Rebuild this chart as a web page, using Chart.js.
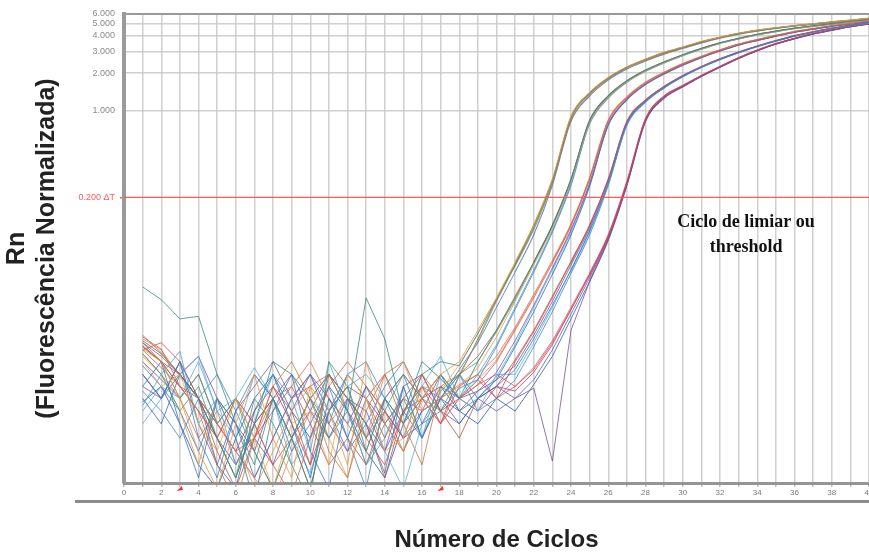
<!DOCTYPE html>
<html><head><meta charset="utf-8">
<script src="https://cdn.jsdelivr.net/npm/chart.js@4.4.1/dist/chart.umd.min.js"></script>
<style>
html,body{margin:0;padding:0;background:#fff;overflow:hidden;}
#wrap{width:869px;height:552px;overflow:hidden;position:relative;}
canvas{display:block;}
</style></head>
<body><div id="wrap"><canvas id="c" width="880" height="552" style="width:880px;height:552px"></canvas></div>
<script>
// ---- data ----
const cycles = [1,2,3,4,5,6,7,8,9,10,11,12,13,14,15,16,17,18,19,20,21,22,23,24,25,26,27,28,29,30,31,32,33,34,35,36,37,38,39,40];
const xTickValues = [0,2,4,6,8,10,12,14,16,18,20,22,24,26,28,30,32,34,36,38,40];
const yTickValues = [0.2,1,2,3,4,5,6];
const yTickLabels = ['0.200 ΔT','1.000','2.000','3.000','4.000','5.000','6.000'];
const thresholdValue = [0.2];
const baselineCycles = [3,17];
const annotationText = ['Ciclo de limiar ou','threshold'];

// group 1 (Ct ~22.7)
const a1 = [.012,.0095,.0048,.0018,.0009,.003,.0075,.0023,.0011,.006,.0038,.0014,.0095,.003,.0018,.0048,.0075,
  .0095,.017,.031,.06,.12,.28,.9,1.4,1.85,2.25,2.6,2.95,3.25,3.6,3.9,4.2,4.45,4.65,4.85,5.0,5.2,5.35,5.55];
const a2 = [.038,.03,.021,.022,.0075,.003,.0014,.0048,.0023,.0009,.0038,.006,.0018,.0048,.003,.0075,.0095,
  .0088,.016,.03,.057,.115,.27,.88,1.38,1.82,2.22,2.58,2.92,3.22,3.56,3.88,4.18,4.42,4.63,4.82,4.98,5.18,5.34,5.52];
const a3 = [.015,.012,.006,.0038,.0014,.0007,.0023,.006,.0095,.0048,.0018,.0011,.0038,.0075,.003,.0014,.006,
  .0075,.014,.029,.056,.11,.26,.84,1.34,1.79,2.19,2.53,2.87,3.19,3.53,3.85,4.15,4.39,4.6,4.8,4.96,5.15,5.3,5.48];
const a4 = [.006,.0095,.003,.0011,.0048,.0023,.0007,.0038,.0075,.0018,.0009,.0048,.003,.0012,.006,.0023,.0048,
  .0082,.0135,.026,.05,.1,.25,.82,1.31,1.76,2.16,2.51,2.85,3.16,3.51,3.83,4.13,4.37,4.59,4.79,4.96,5.13,5.29,5.46];
const a5 = [.011,.0075,.0038,.006,.0023,.0011,.0048,.003,.0014,.0007,.0095,.006,.0023,.0038,.0075,.0048,.0038,
  .0072,.0145,.03,.058,.118,.27,.87,1.37,1.83,2.23,2.58,2.93,3.23,3.58,3.89,4.19,4.43,4.64,4.83,4.99,5.19,5.34,5.53];
const a6 = [.0095,.006,.0075,.003,.0018,.0048,.0023,.0009,.003,.0038,.0014,.0075,.0048,.0018,.0023,.006,.0055,
  .009,.016,.031,.059,.12,.28,.89,1.39,1.84,2.24,2.59,2.94,3.24,3.59,3.9,4.2,4.45,4.65,4.85,5.0,5.2,5.36,5.56];
// group 2 (Ct ~23.7)
const b1 = [.014,.011,.0075,.0048,.0023,.0011,.003,.0095,.0075,.0048,.0023,.0038,.031,.0145,.0035,.0095,.0069,.0048,
  .0095,.017,.031,.06,.12,.28,.84,1.32,1.74,2.12,2.47,2.82,3.17,3.52,3.82,4.12,4.37,4.62,4.82,5.02,5.22,5.42];
const b2 = [.0105,.0075,.0038,.0014,.0048,.0023,.0009,.0018,.0038,.006,.0023,.0011,.0048,.0075,.0095,.0038,.0048,.006,
  .0085,.015,.029,.057,.113,.27,.8,1.28,1.7,2.08,2.43,2.78,3.13,3.48,3.78,4.08,4.33,4.58,4.78,4.98,5.18,5.38];
const b3 = [.0042,.0075,.0115,.003,.0048,.0014,.003,.0075,.0048,.0018,.0095,.0038,.0014,.0023,.006,.0023,.0075,.0048,
  .0075,.013,.026,.052,.108,.26,.78,1.26,1.69,2.07,2.42,2.77,3.12,3.47,3.77,4.07,4.33,4.57,4.77,4.97,5.17,5.36];
const b4 = [.0135,.0095,.006,.0048,.0018,.0009,.0023,.006,.0038,.0014,.0075,.0048,.003,.0011,.0038,.006,.003,.0075,
  .0105,.017,.032,.06,.118,.28,.83,1.31,1.73,2.11,2.46,2.81,3.16,3.51,3.81,4.11,4.36,4.61,4.81,5.01,5.21,5.41];
const b5 = [.0075,.0048,.0095,.0023,.0011,.0038,.0075,.0048,.0018,.003,.006,.0023,.0009,.0048,.0075,.003,.0038,.0058,
  .0068,.0125,.025,.05,.105,.25,.79,1.27,1.7,2.08,2.43,2.78,3.13,3.48,3.78,4.08,4.34,4.58,4.78,4.98,5.18,5.37];
const b6 = [.0125,.0095,.0048,.0075,.003,.0048,.0018,.0009,.0023,.0048,.0075,.0038,.0014,.003,.0048,.0023,.0055,.0075,
  .0095,.0165,.03,.059,.118,.275,.82,1.3,1.72,2.1,2.45,2.8,3.15,3.5,3.8,4.1,4.35,4.6,4.8,5.0,5.2,5.4];
// group 3 (Ct ~24.7)
const c1 = [.0125,.0095,.006,.0038,.0023,.0048,.003,.0014,.0008,.0023,.006,.0095,.006,.0038,.0018,.0048,.0075,.0048,.0062,
  .0095,.017,.031,.059,.118,.28,.82,1.27,1.67,2.02,2.37,2.72,3.07,3.42,3.72,4.02,4.32,4.57,4.82,5.02,5.27];
const c2 = [.0075,.0048,.0095,.003,.0014,.0038,.006,.0095,.0048,.0075,.003,.0018,.0048,.0075,.0038,.0023,.0048,.0038,.0055,
  .0078,.014,.027,.054,.11,.26,.78,1.23,1.63,1.98,2.33,2.68,3.03,3.38,3.68,3.98,4.28,4.53,4.78,4.98,5.22];
const c3 = [.0145,.0118,.0072,.0048,.003,.0018,.0011,.0007,.0018,.0038,.003,.0048,.0023,.0075,.0095,.0048,.003,.0048,.0068,
  .0098,.0175,.032,.061,.12,.285,.83,1.28,1.68,2.03,2.38,2.73,3.08,3.43,3.73,4.03,4.33,4.58,4.83,5.03,5.28];
const c4 = [.0048,.003,.0075,.0048,.0014,.0009,.0038,.0075,.003,.0011,.0048,.0023,.006,.003,.0018,.0038,.0048,.003,.0048,
  .0068,.0125,.024,.048,.1,.245,.76,1.22,1.62,1.97,2.32,2.67,3.02,3.37,3.67,3.97,4.27,4.52,4.77,4.97,5.2];
const c5 = [.011,.0075,.0048,.0023,.0038,.0014,.0023,.0048,.006,.0095,.0048,.003,.0018,.0048,.003,.0075,.0048,.0062,.0075,
  .0105,.018,.033,.062,.122,.29,.84,1.29,1.69,2.04,2.39,2.74,3.09,3.44,3.74,4.04,4.34,4.59,4.84,5.04,5.29];
const c6 = [.0038,.006,.0048,.0095,.0038,.0023,.0075,.0048,.0014,.0023,.0038,.0075,.0048,.0018,.0009,.003,.0048,.0075,.0048,
  .0072,.013,.026,.052,.106,.255,.77,1.23,1.63,1.98,2.33,2.68,3.03,3.38,3.68,3.98,4.28,4.53,4.78,4.98,5.21];
// group 4 (Ct ~25.7)
const d1 = [.0088,.006,.0038,.0018,.0048,.003,.0011,.0023,.0048,.0075,.0038,.0018,.003,.006,.0095,.0048,.0075,.0038,.0048,.006,
  .0082,.0145,.027,.052,.108,.26,.78,1.18,1.53,1.88,2.23,2.58,2.93,3.28,3.63,3.98,4.28,4.58,4.83,5.08];
const d2 = [.0118,.0135,.0095,.0048,.003,.0018,.0023,.0038,.006,.003,.0014,.0023,.0014,.0038,.0023,.006,.0038,.0048,.0068,.0048,
  .0095,.0165,.031,.06,.118,.28,.82,1.22,1.57,1.92,2.27,2.62,2.97,3.32,3.67,4.02,4.32,4.62,4.87,5.12];
const d3 = [.003,.0048,.0075,.0105,.0038,.0048,.0085,.0048,.0023,.0012,.0038,.006,.0075,.0048,.003,.006,.0105,.0048,.0038,.0075,
  .0075,.0135,.026,.052,.105,.255,.77,1.18,1.53,1.88,2.23,2.58,2.93,3.28,3.63,3.98,4.28,4.58,4.83,5.08];
const d4 = [.0095,.0068,.0048,.0075,.003,.0048,.0023,.0014,.0038,.0075,.0048,.003,.006,.0038,.0023,.003,.006,.0048,.0055,.0068,
  .0088,.0155,.029,.057,.113,.27,.8,1.2,1.55,1.9,2.25,2.6,2.95,3.3,3.65,4.0,4.3,4.6,4.85,5.1];
const d5 = [.0135,.0105,.0075,.0048,.0023,.0011,.003,.0048,.0023,.0009,.0038,.0075,.0048,.0023,.0048,.0075,.0038,.0023,.0048,.006,
  .0098,.017,.032,.061,.12,.28,.81,1.21,1.56,1.91,2.26,2.61,2.96,3.31,3.66,4.01,4.31,4.61,4.86,5.11];
const d6 = [.0055,.0038,.0023,.0048,.0075,.0038,.0018,.0009,.0023,.0048,.003,.0075,.0095,.0048,.0023,.0038,.0048,.0075,.0038,.0048,
  .0068,.0125,.024,.049,.1,.25,.76,1.17,1.52,1.87,2.22,2.57,2.92,3.27,3.62,3.97,4.27,4.57,4.82,5.07];
// group 5 (Ct ~26.8)
const e1 = [.0128,.0095,.0075,.0048,.003,.0018,.0038,.006,.003,.0014,.0038,.006,.0048,.003,.0048,.0038,.0075,.0048,.0038,.006,.0055,
  .0078,.013,.025,.047,.097,.26,.85,1.3,1.58,1.91,2.26,2.66,3.06,3.46,3.81,4.16,4.46,4.76,5.0];
const e2 = [.006,.0048,.0075,.0105,.0048,.003,.0018,.0048,.0075,.0038,.0023,.0048,.0038,.0018,.006,.0075,.0038,.003,.0048,.006,.0048,
  .0058,.0015,.017,.042,.092,.25,.82,1.26,1.56,1.89,2.24,2.64,3.04,3.44,3.79,4.14,4.44,4.74,4.98];
const e3 = [.0155,.0112,.0075,.0048,.003,.0018,.0011,.0023,.0048,.006,.0075,.0048,.0023,.0014,.0038,.0048,.003,.006,.0075,.0048,.006,
  .0082,.0135,.025,.048,.098,.265,.86,1.31,1.59,1.92,2.27,2.67,3.07,3.47,3.82,4.17,4.47,4.77,5.02];
const e4 = [.0045,.006,.003,.0014,.0009,.0023,.0048,.0075,.0038,.0023,.006,.0038,.0018,.0011,.003,.0048,.006,.0038,.003,.0048,.0038,
  .0062,.0105,.021,.042,.09,.25,.82,1.26,1.55,1.88,2.23,2.63,3.03,3.43,3.78,4.13,4.43,4.73,4.97];
const e5 = [.0118,.0085,.006,.0038,.0023,.0048,.003,.0014,.0023,.0048,.0075,.0038,.0023,.0048,.0075,.0048,.003,.0048,.0062,.0075,.006,
  .0085,.014,.026,.049,.1,.27,.86,1.31,1.59,1.92,2.27,2.67,3.07,3.47,3.82,4.17,4.47,4.77,5.02];
const e6 = [.0075,.0048,.0095,.0048,.0023,.0014,.003,.0048,.0023,.0038,.0075,.0048,.003,.0018,.0038,.006,.0048,.0075,.0048,.0038,.0048,
  .0068,.0118,.023,.045,.094,.255,.83,1.27,1.56,1.89,2.24,2.64,3.04,3.44,3.79,4.14,4.44,4.74,4.98];

const seriesValues = [a1,a2,a3,a4,a5,a6,b1,b2,b3,b4,b5,b6,c1,c2,c3,c4,c5,c6,d1,d2,d3,d4,d5,d6,e1,e2,e3,e4,e5,e6];
const seriesColors = [
  '#e8963c','#3a8f86','#c8743c','#3778c0','#4a9a70','#eaa650',
  '#2f8a80','#e39b4a','#4ea2d6','#b8584a','#3f7fc8','#5a9a60',
  '#d9603f','#7a5aa8','#e38170','#2d6db5','#dd7048','#5aaede',
  '#3a7cc4','#d04a4a','#5aaede','#6b5aa6','#b5504a','#3f88cc',
  '#c43c5c','#7d4f9a','#d8504f','#2a5ea8','#d2566e','#5a5fb0'];

seriesValues.forEach((s,i)=>{ if(s.length!==cycles.length) throw new Error('series '+(i+1)+' has '+s.length); });

const GRAY_GRID = 'rgba(200,200,200,0.85)';
const RED = 'rgba(255,80,80,0.95)';

const datasets = [{
  data: [{x:0,y:thresholdValue[0]},{x:40,y:thresholdValue[0]}],
  borderColor: RED, borderWidth: 1.3, pointRadius: 0, order: -1
}];
seriesValues.forEach((vals,i)=>{
  const pts = cycles.map((c,j)=>({x:c,y:vals[j]}));
  // split: jagged baseline part (straight segments), smooth amplification part
  let k = vals.findIndex((v,j)=> j>14 && v >= 0.04);
  const col = seriesColors[i] + 'cc';
  datasets.push({ data: pts.slice(0, k+1), borderColor: col, borderWidth: 1, pointRadius: 0, tension: 0 });
  datasets.push({ data: pts.slice(k), borderColor: col, borderWidth: 1.1, pointRadius: 0, cubicInterpolationMode: 'monotone' });
});

const deco = {
  id: 'deco',
  afterDraw(chart) {
    const {ctx, chartArea: a, scales: {x, y}} = chart;
    ctx.save();
    ctx.fillStyle = '#9a9a9a';
    ctx.fillRect(a.left - 2, a.top - 1, a.right - a.left + 2, 2);
    ctx.fillStyle = '#8c8c8c';
    ctx.fillRect(75, a.bottom + 17, chart.width, 3);
    ctx.fillStyle = '#ff2a2a';
    baselineCycles.forEach(c => {
      const px = x.getPixelForValue(c);
      ctx.beginPath();
      ctx.moveTo(px - 3, a.bottom + 8);
      ctx.lineTo(px + 2, a.bottom + 3);
      ctx.lineTo(px + 3, a.bottom + 7);
      ctx.closePath();
      ctx.fill();
    });
    ctx.fillStyle = '#111';
    ctx.font = 'bold 18px "Liberation Serif", "Times New Roman", serif';
    ctx.textAlign = 'center';
    ctx.textBaseline = 'middle';
    const ax = x.getPixelForValue(33.4);
    const ay = y.getPixelForValue(0.125);
    annotationText.forEach((t,i)=> ctx.fillText(t, ax, ay + i*25));
    ctx.restore();
  }
};

new Chart(document.getElementById('c'), {
  type: 'line',
  data: { datasets },
  plugins: [deco],
  options: {
    responsive: false, animation: false, devicePixelRatio: 1,
    layout: { padding: { top: 14, right: 11, left: 0, bottom: 0 } },
    plugins: { legend: { display: false }, tooltip: { enabled: false } },
    scales: {
      x: {
        type: 'linear', min: 0, max: 40,
        afterBuildTicks: s => { s.ticks = [0].concat(cycles).map(v=>({value:v})); },
        afterFit: s => { s.height = 69; },
        ticks: {
          autoSkip: false, maxRotation: 0, padding: 1,
          font: { family: 'Liberation Sans', size: 8 }, color: '#7a7a7a',
          callback: v => xTickValues.includes(v) ? String(v) : ''
        },
        grid: { color: GRAY_GRID, lineWidth: 1.5, tickLength: 4, tickColor: '#bbb' },
        border: { color: '#959595', width: 3 },
        title: { display: true, text: 'Número de Ciclos', color: '#222',
          font: { family: 'Liberation Sans', size: 24, weight: 'bold', lineHeight: 1 },
          padding: { top: 0, bottom: 0 } }
      },
      y: {
        type: 'logarithmic', min: 0.001, max: 6,
        afterBuildTicks: s => { s.ticks = yTickValues.map(v=>({value:v})); },
        afterFit: s => { s.width = 124; },
        ticks: {
          autoSkip: false, padding: 5,
          font: { family: 'Liberation Sans', size: 9 },
          color: c => c.tick && c.tick.value === thresholdValue[0] ? RED : '#8a8a8a',
          callback: v => { const i = yTickValues.indexOf(v); return i >= 0 ? yTickLabels[i] : ''; }
        },
        grid: {
          color: c => c.tick && c.tick.value === thresholdValue[0] ? 'rgba(0,0,0,0)' : GRAY_GRID,
          tickColor: c => c.tick && c.tick.value === thresholdValue[0] ? RED : 'rgba(0,0,0,0)',
          lineWidth: 1.5, tickLength: 4
        },
        border: { color: '#9a9a9a', width: 4 },
        title: { display: true, text: ['Rn', '(Fluorescência Normalizada)'], color: '#222',
          font: { family: 'Liberation Sans', size: 25, weight: 'bold', lineHeight: 1.2 },
          padding: { top: 2, bottom: 0 } }
      }
    }
  }
});
</script>
</body></html>
